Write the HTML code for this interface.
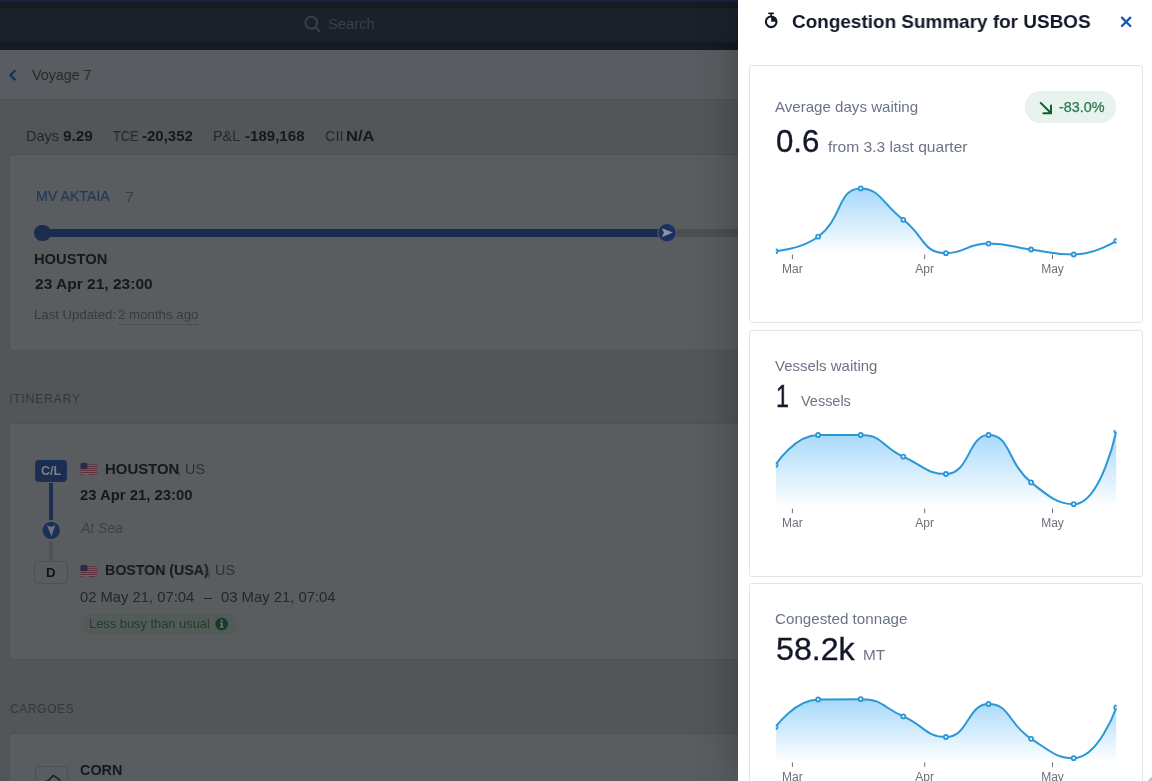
<!DOCTYPE html>
<html lang="en">
<head>
<meta charset="utf-8">
<title>Congestion Summary for USBOS</title>
<style>
html,body{margin:0;padding:0}
body{width:1152px;height:781px;overflow:hidden;position:relative;background:#535558;font-family:"Liberation Sans",sans-serif;}
.abs{position:absolute}
.t{position:absolute;white-space:nowrap;line-height:1;transform-origin:0 0;will-change:transform;font-family:"Liberation Sans",sans-serif}
.card{position:absolute;box-sizing:border-box;background:#595d60;border:1px solid #4e5156;border-radius:3px}
.pcard{position:absolute;box-sizing:border-box;background:#fff;border:1px solid #e2e3e6;border-radius:3px}
</style>
</head>
<body>
<!-- ===== dimmed page behind the drawer ===== -->
<div class="abs" style="left:0;top:0;width:1152px;height:49.5px;background:#151a23"></div>
<div class="abs" style="left:0;top:0;width:1152px;height:2px;background:#16253f"></div>
<div class="abs" style="left:0;top:7.5px;width:1152px;height:34px;background:#1b212b"></div>
<!-- search icon -->
<svg class="abs" style="left:302px;top:14px" width="22" height="22" viewBox="0 0 22 22">
  <circle cx="9.3" cy="8.7" r="6" fill="none" stroke="#3a3f49" stroke-width="2"/>
  <path d="M13.8 13.2 L17.6 17.6" stroke="#3a3f49" stroke-width="2.2" stroke-linecap="round"/>
</svg>
<!-- page header -->
<div class="abs" style="left:0;top:49.5px;width:1152px;height:50px;background:#595d61;border-bottom:1px solid #4e535c;box-sizing:border-box"></div>
<svg class="abs" style="left:6px;top:65.5px" width="14" height="18" viewBox="0 0 14 18">
  <path d="M8.9 4.8 L4.3 9.2 L8.9 13.6" fill="none" stroke="#192e57" stroke-width="2.1" stroke-linejoin="round" stroke-linecap="round"/>
</svg>

<!-- voyage card -->
<div class="card" style="left:8.5px;top:154px;width:1200px;height:196.5px"></div>
<div class="abs" style="left:42px;top:229px;width:626px;height:8px;background:#1a2c4f"></div>
<div class="abs" style="left:668px;top:229px;width:100px;height:8px;background:#4c4f53"></div>
<div class="abs" style="left:34.3px;top:224.7px;width:16.6px;height:16.6px;border-radius:50%;background:#1a2c4f"></div>
<svg class="abs" style="left:656px;top:222px" width="22" height="22" viewBox="0 0 22 22">
  <circle cx="11" cy="10.7" r="9.6" fill="#595d60"/>
  <circle cx="11" cy="10.7" r="8.7" fill="#1b3060"/>
  <path d="M5.8 6.2 L16.9 10.6 L5.8 15.3 L7.9 10.6 Z" fill="#8e949c"/>
</svg>
<div class="abs" style="left:118.8px;top:323.5px;width:79.3px;height:0;border-top:1px dotted #3d4145"></div>

<!-- itinerary card -->
<div class="card" style="left:8.5px;top:423px;width:1200px;height:237px"></div>
<div class="abs" style="left:49.05px;top:482.5px;width:4px;height:37.2px;background:#1a2e56"></div>
<div class="abs" style="left:49.3px;top:540.5px;width:3.6px;height:21px;background:#505256"></div>
<div class="abs" style="left:35.3px;top:460.3px;width:31.4px;height:21.3px;box-sizing:border-box;border-radius:3.5px;background:#1b2e52;border:1.2px solid #1a3263"></div>
<svg class="abs" style="left:41px;top:520px" width="21" height="21" viewBox="0 0 21 21">
  <circle cx="10.2" cy="10.4" r="9.6" fill="#5d6165"/>
  <circle cx="10.2" cy="10.4" r="8.7" fill="#1b3059"/>
  <path d="M5.9 5.2 L10.1 7 L14.3 5.2 L10.5 16.2 Z" fill="#6e737b"/>
</svg>
<div class="abs" style="left:34.3px;top:561.3px;width:33.4px;height:22.8px;box-sizing:border-box;border-radius:3.5px;background:#595d60;border:1.2px solid #4d5057"></div>
<!-- flags -->
<svg class="abs" style="left:79.5px;top:462px" width="18" height="14" viewBox="0 0 18 14">
  <defs><clipPath id="fc462"><path d="M0.5 1.6 C3.5 0.4 6 0.6 9 1.4 C12 2.2 14.5 1.6 17.5 0.6 L17.5 12 C14.5 13.2 12 13.4 9 12.6 C6 11.8 3.5 12 0.5 13.2 Z"/></clipPath></defs>
  <g clip-path="url(#fc462)">
    <rect width="18" height="14" fill="#726a6f"/>
    <g fill="#5c2a36"><rect y="0.3" width="18" height="1"/><rect y="2.25" width="18" height="1"/><rect y="4.2" width="18" height="1"/><rect y="6.15" width="18" height="1"/><rect y="8.1" width="18" height="1"/><rect y="10.05" width="18" height="1"/><rect y="12" width="18" height="1.4"/></g>
    <rect width="7.4" height="7.1" fill="#272b48"/>
  </g>
</svg>
<svg class="abs" style="left:79.5px;top:564px" width="18" height="14" viewBox="0 0 18 14">
  <defs><clipPath id="fc564"><path d="M0.5 1.6 C3.5 0.4 6 0.6 9 1.4 C12 2.2 14.5 1.6 17.5 0.6 L17.5 12 C14.5 13.2 12 13.4 9 12.6 C6 11.8 3.5 12 0.5 13.2 Z"/></clipPath></defs>
  <g clip-path="url(#fc564)">
    <rect width="18" height="14" fill="#726a6f"/>
    <g fill="#5c2a36"><rect y="0.3" width="18" height="1"/><rect y="2.25" width="18" height="1"/><rect y="4.2" width="18" height="1"/><rect y="6.15" width="18" height="1"/><rect y="8.1" width="18" height="1"/><rect y="10.05" width="18" height="1"/><rect y="12" width="18" height="1.4"/></g>
    <rect width="7.4" height="7.1" fill="#272b48"/>
  </g>
</svg>
<!-- busy pill -->
<div class="abs" style="left:80px;top:613.7px;width:158px;height:20.3px;border-radius:10.2px;background:#535a58"></div>
<svg class="abs" style="left:215px;top:616.9px" width="14" height="14" viewBox="0 0 14 14">
  <circle cx="6.7" cy="7" r="6.3" fill="#153a2b"/>
  <circle cx="6.7" cy="3.7" r="1.15" fill="#69736f"/>
  <path d="M5.1 5.6 H7.7 V9.6 H8.6 V10.7 H4.9 V9.6 H5.8 V6.7 H5.1 Z" fill="#69736f"/>
</svg>

<!-- cargoes card -->
<div class="card" style="left:8.5px;top:733px;width:1200px;height:100px"></div>
<div class="abs" style="left:34.5px;top:766px;width:33px;height:30px;box-sizing:border-box;border-radius:3.5px;border:1.2px solid #4d5057"></div>
<svg class="abs" style="left:40px;top:770px" width="26" height="12" viewBox="0 0 26 12">
  <path d="M4.5 12 L8.5 10.6 L13.3 5.4 L19.3 9.6 L19.8 12" fill="none" stroke="#1d2024" stroke-width="1.6" stroke-linejoin="round"/>
</svg>

<!-- ===== drawer ===== -->
<div class="abs" style="left:738px;top:0;width:414px;height:781px;background:#fff;box-shadow:0 0 40px rgba(0,0,0,.3)"></div>
<!-- stopwatch icon -->
<svg class="abs" style="left:760px;top:8px" width="24" height="24" viewBox="0 0 24 24">
  <circle cx="11.2" cy="13.85" r="5.3" fill="none" stroke="#111827" stroke-width="2.1"/>
  <path d="M11.2 13.85 L11.2 8.4 A5.45 5.45 0 0 1 16.65 13.85 Z" fill="#111827"/>
  <path d="M8.95 5.35 H13.2" stroke="#111827" stroke-width="1.7" stroke-linecap="round"/>
  <path d="M11.15 5.35 V8.6" stroke="#111827" stroke-width="1.6"/>
</svg>
<!-- close -->
<svg class="abs" style="left:1118px;top:14px" width="16" height="16" viewBox="0 0 16 16">
  <path d="M3.95 3.6 L12.35 12 M12.35 3.6 L3.95 12" stroke="#1a56b4" stroke-width="2.3" stroke-linecap="round" fill="none"/>
</svg>

<div class="pcard" style="left:749px;top:65.2px;width:394px;height:258px"></div>
<div class="pcard" style="left:749px;top:330px;width:394px;height:247px"></div>
<div class="pcard" style="left:749px;top:583px;width:394px;height:247px"></div>

<!-- delta pill -->
<div class="abs" style="left:1025.3px;top:91.2px;width:91px;height:31.5px;border-radius:15.5px;background:#e7f3ec"></div>
<svg class="abs" style="left:1038px;top:100px" width="16" height="16" viewBox="0 0 16 16">
  <path d="M2.7 2.9 L12.6 12.8 M13 5.6 V13.2 H5.4" fill="none" stroke="#0f5f31" stroke-width="2" stroke-linecap="round"/>
</svg>

<svg class="abs" style="left:1144px;top:773px" width="8" height="8" viewBox="0 0 8 8"><path d="M8 3.6 L3.6 8 H8 Z" fill="#c4c4c4"/></svg>
<svg class="abs" style="left:0;top:0;will-change:transform" width="1152" height="781" viewBox="0 0 1152 781"><defs><linearGradient id="g1" gradientUnits="userSpaceOnUse" x1="0" y1="188.0" x2="0" y2="254.5"><stop offset="0" stop-color="#a6d8f9"/><stop offset="1" stop-color="#ffffff"/></linearGradient><clipPath id="c1"><rect x="775.8" y="176.0" width="340.8" height="82.5"/></clipPath></defs><g clip-path="url(#c1)"><path d="M775.50,251.20C775.50,251.20,800.58,249.62,818.10,236.70C843.18,218.22,837.32,188.40,860.70,188.40C879.92,188.40,882.24,203.78,903.30,219.80C924.84,236.18,922.32,253.20,945.90,253.20C964.92,253.20,967.04,243.60,988.50,243.60C1009.64,243.60,1009.77,246.77,1031.10,249.50C1052.37,252.22,1052.85,254.50,1073.70,254.50C1095.45,254.50,1116.30,240.80,1116.30,240.80L1116.30,254.50L775.50,254.50Z" fill="url(#g1)"/><path d="M775.50,251.20C775.50,251.20,800.58,249.62,818.10,236.70C843.18,218.22,837.32,188.40,860.70,188.40C879.92,188.40,882.24,203.78,903.30,219.80C924.84,236.18,922.32,253.20,945.90,253.20C964.92,253.20,967.04,243.60,988.50,243.60C1009.64,243.60,1009.77,246.77,1031.10,249.50C1052.37,252.22,1052.85,254.50,1073.70,254.50C1095.45,254.50,1116.30,240.80,1116.30,240.80" fill="none" stroke="#2b97d7" stroke-width="2" stroke-linecap="round"/><circle cx="775.50" cy="251.20" r="2" fill="#fff" stroke="#2b97d7" stroke-width="1.8"/><circle cx="818.10" cy="236.70" r="2" fill="#fff" stroke="#2b97d7" stroke-width="1.8"/><circle cx="860.70" cy="188.40" r="2" fill="#fff" stroke="#2b97d7" stroke-width="1.8"/><circle cx="903.30" cy="219.80" r="2" fill="#fff" stroke="#2b97d7" stroke-width="1.8"/><circle cx="945.90" cy="253.20" r="2" fill="#fff" stroke="#2b97d7" stroke-width="1.8"/><circle cx="988.50" cy="243.60" r="2" fill="#fff" stroke="#2b97d7" stroke-width="1.8"/><circle cx="1031.10" cy="249.50" r="2" fill="#fff" stroke="#2b97d7" stroke-width="1.8"/><circle cx="1073.70" cy="254.50" r="2" fill="#fff" stroke="#2b97d7" stroke-width="1.8"/><circle cx="1116.30" cy="240.80" r="2" fill="#fff" stroke="#2b97d7" stroke-width="1.8"/></g><rect x="791.9" y="254.6" width="1" height="4.5" fill="#6e7079"/><text x="792.4" y="273.2" text-anchor="middle" font-size="12" fill="#6e7079" font-family='Liberation Sans'>Mar</text><rect x="924.2" y="254.6" width="1" height="4.5" fill="#6e7079"/><text x="924.7" y="273.2" text-anchor="middle" font-size="12" fill="#6e7079" font-family='Liberation Sans'>Apr</text><rect x="1052.0" y="254.6" width="1" height="4.5" fill="#6e7079"/><text x="1052.5" y="273.2" text-anchor="middle" font-size="12" fill="#6e7079" font-family='Liberation Sans'>May</text></svg><svg class="abs" style="left:0;top:0;will-change:transform" width="1152" height="781" viewBox="0 0 1152 781"><defs><linearGradient id="g2" gradientUnits="userSpaceOnUse" x1="0" y1="431.0" x2="0" y2="508.0"><stop offset="0" stop-color="#a6d8f9"/><stop offset="1" stop-color="#ffffff"/></linearGradient><clipPath id="c2"><rect x="775.8" y="430.2" width="340.8" height="81.8"/></clipPath></defs><g clip-path="url(#c2)"><path d="M775.50,465.00C775.50,465.00,794.66,435.00,818.10,435.00C837.26,435.00,840.63,435.00,860.70,435.00C883.23,435.00,881.58,446.76,903.30,456.70C924.18,466.26,927.02,474.00,945.90,474.00C969.62,474.00,968.25,435.00,988.50,435.00C1010.85,435.00,1006.77,462.64,1031.10,482.40C1049.37,497.24,1058.32,504.20,1073.70,504.20C1100.92,504.20,1116.30,431.00,1116.30,431.00L1116.30,508.00L775.50,508.00Z" fill="url(#g2)"/><path d="M775.50,465.00C775.50,465.00,794.66,435.00,818.10,435.00C837.26,435.00,840.63,435.00,860.70,435.00C883.23,435.00,881.58,446.76,903.30,456.70C924.18,466.26,927.02,474.00,945.90,474.00C969.62,474.00,968.25,435.00,988.50,435.00C1010.85,435.00,1006.77,462.64,1031.10,482.40C1049.37,497.24,1058.32,504.20,1073.70,504.20C1100.92,504.20,1116.30,431.00,1116.30,431.00" fill="none" stroke="#2b97d7" stroke-width="2" stroke-linecap="round"/><circle cx="775.50" cy="465.00" r="2" fill="#fff" stroke="#2b97d7" stroke-width="1.8"/><circle cx="818.10" cy="435.00" r="2" fill="#fff" stroke="#2b97d7" stroke-width="1.8"/><circle cx="860.70" cy="435.00" r="2" fill="#fff" stroke="#2b97d7" stroke-width="1.8"/><circle cx="903.30" cy="456.70" r="2" fill="#fff" stroke="#2b97d7" stroke-width="1.8"/><circle cx="945.90" cy="474.00" r="2" fill="#fff" stroke="#2b97d7" stroke-width="1.8"/><circle cx="988.50" cy="435.00" r="2" fill="#fff" stroke="#2b97d7" stroke-width="1.8"/><circle cx="1031.10" cy="482.40" r="2" fill="#fff" stroke="#2b97d7" stroke-width="1.8"/><circle cx="1073.70" cy="504.20" r="2" fill="#fff" stroke="#2b97d7" stroke-width="1.8"/><circle cx="1116.30" cy="431.00" r="2" fill="#fff" stroke="#2b97d7" stroke-width="1.8"/></g><rect x="791.9" y="508.6" width="1" height="4.5" fill="#6e7079"/><text x="792.4" y="527.2" text-anchor="middle" font-size="12" fill="#6e7079" font-family='Liberation Sans'>Mar</text><rect x="924.2" y="508.6" width="1" height="4.5" fill="#6e7079"/><text x="924.7" y="527.2" text-anchor="middle" font-size="12" fill="#6e7079" font-family='Liberation Sans'>Apr</text><rect x="1052.0" y="508.6" width="1" height="4.5" fill="#6e7079"/><text x="1052.5" y="527.2" text-anchor="middle" font-size="12" fill="#6e7079" font-family='Liberation Sans'>May</text></svg><svg class="abs" style="left:0;top:0;will-change:transform" width="1152" height="781" viewBox="0 0 1152 781"><defs><linearGradient id="g3" gradientUnits="userSpaceOnUse" x1="0" y1="699.0" x2="0" y2="762.0"><stop offset="0" stop-color="#a6d8f9"/><stop offset="1" stop-color="#ffffff"/></linearGradient><clipPath id="c3"><rect x="775.8" y="684.0" width="340.8" height="82.0"/></clipPath></defs><g clip-path="url(#c3)"><path d="M775.50,727.00C775.50,727.00,794.95,699.86,818.10,699.50C837.55,699.20,840.20,699.20,860.70,699.20C882.80,699.20,882.31,707.09,903.30,716.40C924.91,725.99,925.98,737.00,945.90,737.00C968.58,737.00,967.42,704.00,988.50,704.00C1010.02,704.00,1008.09,724.16,1031.10,738.80C1050.69,751.26,1056.06,758.20,1073.70,758.20C1098.66,758.20,1116.30,707.50,1116.30,707.50L1116.30,762.00L775.50,762.00Z" fill="url(#g3)"/><path d="M775.50,727.00C775.50,727.00,794.95,699.86,818.10,699.50C837.55,699.20,840.20,699.20,860.70,699.20C882.80,699.20,882.31,707.09,903.30,716.40C924.91,725.99,925.98,737.00,945.90,737.00C968.58,737.00,967.42,704.00,988.50,704.00C1010.02,704.00,1008.09,724.16,1031.10,738.80C1050.69,751.26,1056.06,758.20,1073.70,758.20C1098.66,758.20,1116.30,707.50,1116.30,707.50" fill="none" stroke="#2b97d7" stroke-width="2" stroke-linecap="round"/><circle cx="775.50" cy="727.00" r="2" fill="#fff" stroke="#2b97d7" stroke-width="1.8"/><circle cx="818.10" cy="699.50" r="2" fill="#fff" stroke="#2b97d7" stroke-width="1.8"/><circle cx="860.70" cy="699.20" r="2" fill="#fff" stroke="#2b97d7" stroke-width="1.8"/><circle cx="903.30" cy="716.40" r="2" fill="#fff" stroke="#2b97d7" stroke-width="1.8"/><circle cx="945.90" cy="737.00" r="2" fill="#fff" stroke="#2b97d7" stroke-width="1.8"/><circle cx="988.50" cy="704.00" r="2" fill="#fff" stroke="#2b97d7" stroke-width="1.8"/><circle cx="1031.10" cy="738.80" r="2" fill="#fff" stroke="#2b97d7" stroke-width="1.8"/><circle cx="1073.70" cy="758.20" r="2" fill="#fff" stroke="#2b97d7" stroke-width="1.8"/><circle cx="1116.30" cy="707.50" r="2" fill="#fff" stroke="#2b97d7" stroke-width="1.8"/></g><rect x="791.9" y="762.4" width="1" height="4.5" fill="#6e7079"/><text x="792.4" y="781.0" text-anchor="middle" font-size="12" fill="#6e7079" font-family='Liberation Sans'>Mar</text><rect x="924.2" y="762.4" width="1" height="4.5" fill="#6e7079"/><text x="924.7" y="781.0" text-anchor="middle" font-size="12" fill="#6e7079" font-family='Liberation Sans'>Apr</text><rect x="1052.0" y="762.4" width="1" height="4.5" fill="#6e7079"/><text x="1052.5" y="781.0" text-anchor="middle" font-size="12" fill="#6e7079" font-family='Liberation Sans'>May</text></svg>
<span class="t" id="search" style="left:327.83px;top:17.21px;font-size:14.4px;font-weight:400;font-style:normal;color:#3a3f49;transform:scaleX(1.0273);">Search</span>
<span class="t" id="voy" style="left:31.85px;top:68.01px;font-size:14.4px;font-weight:400;font-style:normal;color:#25282c;transform:scaleX(0.9915);">Voyage 7</span>
<span class="t" id="days" style="left:26.14px;top:128.91px;font-size:14.4px;font-weight:400;font-style:normal;color:#24272b;transform:scaleX(1.0065);">Days</span>
<span class="t" id="daysv" style="left:62.67px;top:128.91px;font-size:14.4px;font-weight:700;font-style:normal;color:#15181c;transform:scaleX(1.0667);">9.29</span>
<span class="t" id="tce" style="left:113.28px;top:128.91px;font-size:14.4px;font-weight:400;font-style:normal;color:#24272b;transform:scaleX(0.8821);">TCE</span>
<span class="t" id="tcev" style="left:142.48px;top:128.91px;font-size:14.4px;font-weight:700;font-style:normal;color:#15181c;transform:scaleX(1.0408);">-20,352</span>
<span class="t" id="pl" style="left:212.95px;top:128.91px;font-size:14.4px;font-weight:400;font-style:normal;color:#24272b;transform:scaleX(0.9961);">P&amp;L</span>
<span class="t" id="plv" style="left:244.58px;top:128.91px;font-size:14.4px;font-weight:700;font-style:normal;color:#15181c;transform:scaleX(1.0475);">-189,168</span>
<span class="t" id="cii" style="left:324.56px;top:128.91px;font-size:14.4px;font-weight:400;font-style:normal;color:#24272b;transform:scaleX(0.9846);">CII</span>
<span class="t" id="ciiv" style="left:345.75px;top:128.91px;font-size:14.4px;font-weight:700;font-style:normal;color:#15181c;transform:scaleX(1.1484);">N/A</span>
<span class="t" id="mv" style="left:36.07px;top:189.21px;font-size:14.4px;font-weight:400;font-style:normal;color:#1e3259;transform:scaleX(0.9850);">MV AKTAIA</span>
<span class="t" id="mv7" style="left:124.96px;top:189.71px;font-size:14.4px;font-weight:400;font-style:normal;color:#3a3e43;transform:scaleX(1.1231);">7</span>
<span class="t" id="hou1" style="left:34.48px;top:252.01px;font-size:14.4px;font-weight:700;font-style:normal;color:#15181c;transform:scaleX(1.0222);">HOUSTON</span>
<span class="t" id="d1" style="left:34.96px;top:276.81px;font-size:14.4px;font-weight:700;font-style:normal;color:#15181c;transform:scaleX(1.0787);">23 Apr 21, 23:00</span>
<span class="t" id="lu" style="left:33.94px;top:308.90px;font-size:12.4px;font-weight:400;font-style:normal;color:#373b3f;transform:scaleX(1.0640);">Last Updated:</span>
<span class="t" id="lu2" style="left:118.26px;top:308.90px;font-size:12.4px;font-weight:400;font-style:normal;color:#373b3f;transform:scaleX(1.0716);">2 months ago</span>
<span class="t" id="itin" style="left:8.88px;top:392.17px;font-size:13.5px;font-weight:400;font-style:normal;color:#33373c;transform:scaleX(0.9000);letter-spacing:0.889px;">ITINERARY</span>
<span class="t" id="cl" style="left:41.21px;top:465.42px;font-size:12.5px;font-weight:700;font-style:normal;color:#7a8088;transform:scaleX(0.9870);">C/L</span>
<span class="t" id="dd" style="left:46.27px;top:566.84px;font-size:12px;font-weight:700;font-style:normal;color:#101216;transform:scaleX(1.1067);">D</span>
<span class="t" id="hou2" style="left:104.56px;top:461.61px;font-size:14.4px;font-weight:700;font-style:normal;color:#15181c;transform:scaleX(1.0366);">HOUSTON</span>
<span class="t" id="us1" style="left:177.15px;top:461.61px;font-size:14.4px;font-weight:400;font-style:normal;color:#2d3135;transform:scaleX(0.9962);">, US</span>
<span class="t" id="d2" style="left:80.08px;top:488.01px;font-size:14.4px;font-weight:700;font-style:normal;color:#15181c;transform:scaleX(1.0306);">23 Apr 21, 23:00</span>
<span class="t" id="sea" style="left:81.22px;top:520.81px;font-size:14.4px;font-weight:400;font-style:italic;color:#3d4145;transform:scaleX(0.9655);">At Sea</span>
<span class="t" id="bos" style="left:104.61px;top:563.41px;font-size:14.4px;font-weight:700;font-style:normal;color:#15181c;transform:scaleX(0.9855);">BOSTON (USA)</span>
<span class="t" id="us2" style="left:206.95px;top:563.41px;font-size:14.4px;font-weight:400;font-style:normal;color:#2d3135;transform:scaleX(1.0000);">, US</span>
<span class="t" id="d3" style="left:79.99px;top:589.81px;font-size:14.4px;font-weight:400;font-style:normal;color:#24272b;transform:scaleX(1.0268);">02 May 21, 07:04</span>
<span class="t" id="dash" style="left:204.20px;top:589.81px;font-size:14.4px;font-weight:400;font-style:normal;color:#24272b;transform:scaleX(0.9500);">–</span>
<span class="t" id="d4" style="left:220.99px;top:589.81px;font-size:14.4px;font-weight:400;font-style:normal;color:#24272b;transform:scaleX(1.0295);">03 May 21, 07:04</span>
<span class="t" id="busy" style="left:88.86px;top:617.80px;font-size:12.4px;font-weight:400;font-style:normal;color:#1b3e2f;transform:scaleX(1.0376);">Less busy than usual</span>
<span class="t" id="carg" style="left:9.52px;top:701.87px;font-size:13.5px;font-weight:400;font-style:normal;color:#33373c;transform:scaleX(0.9000);letter-spacing:0.532px;">CARGOES</span>
<span class="t" id="corn" style="left:80.40px;top:763.11px;font-size:14.4px;font-weight:700;font-style:normal;color:#15181c;transform:scaleX(0.9927);">CORN</span>
<span class="t" id="title" style="left:792.15px;top:11.72px;font-size:19px;font-weight:700;font-style:normal;color:#111827;transform:scaleX(0.9958);">Congestion Summary for USBOS</span>
<span class="t" id="adw" style="left:775.40px;top:99.61px;font-size:14.4px;font-weight:400;font-style:normal;color:#6b7486;transform:scaleX(1.0480);">Average days waiting</span>
<span class="t" id="pct" style="left:1058.85px;top:100.01px;font-size:14.4px;font-weight:400;font-style:normal;color:#2a7850;transform:scaleX(1.0011);-webkit-text-stroke:0.25px #2a7850;">-83.0%</span>
<span class="t" id="n1" style="left:775.54px;top:125.96px;font-size:31px;font-weight:400;font-style:normal;color:#111827;transform:scaleX(1.0074);-webkit-text-stroke:0.35px #111827;">0.6</span>
<span class="t" id="f1" style="left:827.73px;top:140.01px;font-size:14.4px;font-weight:400;font-style:normal;color:#6b7486;transform:scaleX(1.0838);">from 3.3 last quarter</span>
<span class="t" id="vw" style="left:775.04px;top:358.71px;font-size:14.4px;font-weight:400;font-style:normal;color:#6b7486;transform:scaleX(1.0406);">Vessels waiting</span>
<span class="t" id="n2" style="left:775.82px;top:380.76px;font-size:31px;font-weight:400;font-style:normal;color:#111827;transform:scaleX(0.7481);-webkit-text-stroke:0.35px #111827;">1</span>
<span class="t" id="f2" style="left:801.25px;top:394.31px;font-size:14.4px;font-weight:400;font-style:normal;color:#6b7486;transform:scaleX(1.0051);">Vessels</span>
<span class="t" id="ct" style="left:775.01px;top:612.41px;font-size:14.4px;font-weight:400;font-style:normal;color:#6b7486;transform:scaleX(1.0543);">Congested tonnage</span>
<span class="t" id="n3" style="left:775.50px;top:634.06px;font-size:31px;font-weight:400;font-style:normal;color:#111827;transform:scaleX(1.0376);-webkit-text-stroke:0.35px #111827;">58.2k</span>
<span class="t" id="f3" style="left:862.67px;top:647.81px;font-size:14.4px;font-weight:400;font-style:normal;color:#6b7486;transform:scaleX(1.0649);">MT</span>
</body>
</html>
